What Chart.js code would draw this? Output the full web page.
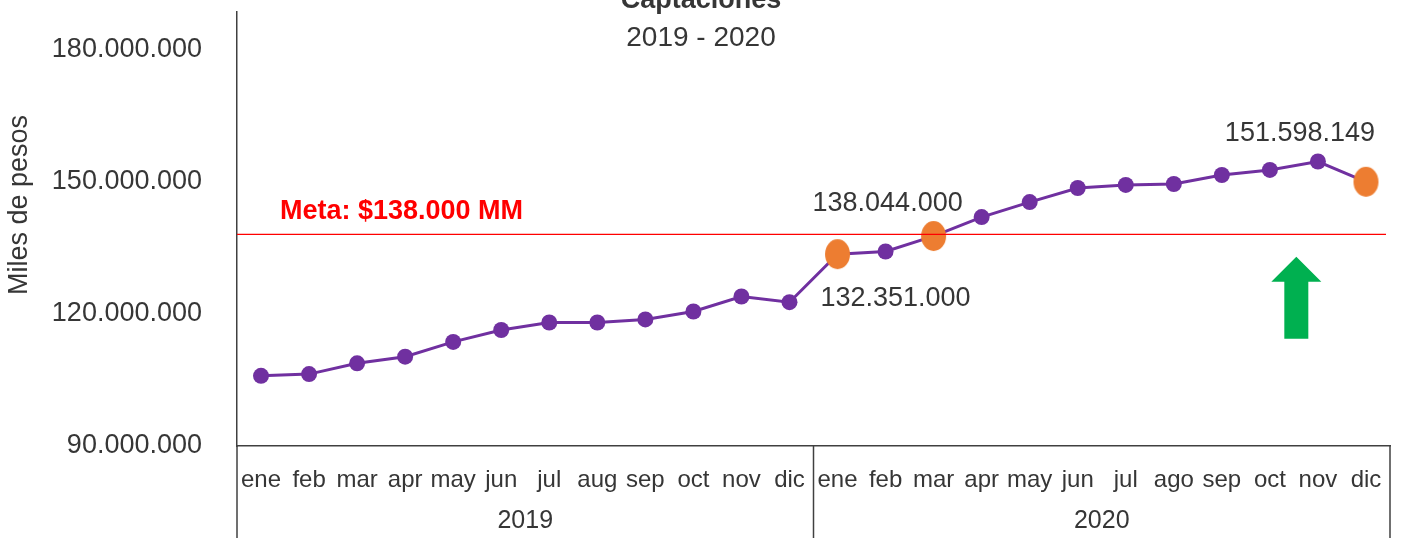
<!DOCTYPE html>
<html>
<head>
<meta charset="utf-8">
<script src="https://cdn.jsdelivr.net/npm/chart.js@4/dist/chart.umd.min.js"></script>
<style>
  html, body { margin: 0; padding: 0; background: #fff; }
  #wrap { width: 1408px; height: 538px; }
</style>
</head>
<body>
<div id="wrap"><canvas id="chart" width="1408" height="538"></canvas></div>
<script>
// Captaciones 2019 - 2020 (miles de pesos)

// ── Data ──────────────────────────────────────────────────────────────────────

const MONTHS_2019 = ['ene', 'feb', 'mar', 'apr', 'may', 'jun', 'jul', 'aug', 'sep', 'oct', 'nov', 'dic'];
const MONTHS_2020 = ['ene', 'feb', 'mar', 'apr', 'may', 'jun', 'jul', 'ago', 'sep', 'oct', 'nov', 'dic'];
const YEARS = ['2019', '2020'];

const CAPTACIONES = [
  105900000, 106300000, 108750000, 110250000, 113600000, 116300000,
  118000000, 118000000, 118700000, 120500000, 123900000, 122600000,
  133500000, 134100000, 137600000, 141900000, 145300000, 148500000,
  149200000, 149400000, 151450000, 152600000, 154500000, 149900000,
];
const HIGHLIGHT = [12, 14, 23];          // puntos naranjas
const META = 138000000;
const META_LABEL = 'Meta: $138.000 MM';

// callouts: text + index of the point it belongs to
const CALLOUT_TEXT  = ['138.044.000', '132.351.000', '151.598.149'];
const CALLOUT_INDEX = [14, 12, 22];

const Y_TICKS = [90000000, 120000000, 150000000, 180000000];
const Y_MIN = 90000000;
const Y_MAX = 188400000;

// flecha verde (entre oct y nov 2020)
const ARROW_INDEX = 21.55;
const ARROW_FROM = 114300000;
const ARROW_TO = 132900000;

const TITLE = 'Captaciones';
const SUBTITLE = '2019 - 2020';
const Y_TITLE = 'Miles de pesos';

// ── Styles ────────────────────────────────────────────────────────────────────

const FONT = '"Liberation Sans", Arial, Helvetica, sans-serif';
const TEXT = '#363636';
const AXIS = '#404040';
const PURPLE = '#7030a0';
const ORANGE = '#ed7d31';
const GREEN = '#00b050';
const RED = '#ff0000';

const fmt = (v) => String(Math.round(v)).replace(/\B(?=(\d{3})+(?!\d))/g, '.');

function ellipse(rx, ry, color) {
  const c = document.createElement('canvas');
  c.width = rx * 2 + 2;
  c.height = ry * 2 + 2;
  const g = c.getContext('2d');
  g.fillStyle = color;
  g.beginPath();
  g.ellipse(rx + 1, ry + 1, rx, ry, 0, 0, Math.PI * 2);
  g.fill();
  return c;
}
const ORANGE_DOT = ellipse(12.5, 15, ORANGE);

// ── Extras plugin: titles, meta line, callouts, arrow, year groups ───────────

const extras = {
  id: 'extras',
  afterDraw(chart) {
    const { ctx, chartArea: a, scales: { x, y } } = chart;
    const H = chart.height;
    ctx.save();

    // title
    ctx.fillStyle = TEXT;
    ctx.textAlign = 'center';
    ctx.textBaseline = 'alphabetic';
    ctx.font = `bold 27px ${FONT}`;
    ctx.fillText(TITLE, 701, 8);
    ctx.textBaseline = 'middle';
    ctx.font = `28px ${FONT}`;
    ctx.fillText(SUBTITLE, 701, 38);

    // y axis title
    ctx.save();
    ctx.translate(20, 205);
    ctx.rotate(-Math.PI / 2);
    ctx.font = `27px ${FONT}`;
    ctx.fillText(Y_TITLE, 0, 0);
    ctx.restore();

    // meta line
    const my = y.getPixelForValue(META);
    ctx.strokeStyle = RED;
    ctx.lineWidth = 1.2;
    ctx.beginPath();
    ctx.moveTo(a.left, my);
    ctx.lineTo(a.right - 4, my);
    ctx.stroke();
    ctx.fillStyle = RED;
    ctx.font = `bold 27px ${FONT}`;
    ctx.textAlign = 'left';
    ctx.fillText(META_LABEL, 280, my - 23);

    // callouts
    const offs = [[-46, -33], [58, 44], [-18, -28]];
    ctx.fillStyle = TEXT;
    ctx.font = `27px ${FONT}`;
    ctx.textAlign = 'center';
    CALLOUT_TEXT.forEach((t, i) => {
      const idx = CALLOUT_INDEX[i];
      const px = x.getPixelForValue(idx);
      const py = y.getPixelForValue(CAPTACIONES[idx]);
      ctx.fillText(t, px + offs[i][0], py + offs[i][1]);
    });

    // green arrow
    const ax = x.getPixelForValue(ARROW_INDEX);
    const yTop = y.getPixelForValue(ARROW_TO);
    const yBot = y.getPixelForValue(ARROW_FROM);
    const headH = 25, headW = 25, shaftW = 12;
    ctx.fillStyle = GREEN;
    ctx.beginPath();
    ctx.moveTo(ax, yTop);
    ctx.lineTo(ax + headW, yTop + headH);
    ctx.lineTo(ax + shaftW, yTop + headH);
    ctx.lineTo(ax + shaftW, yBot);
    ctx.lineTo(ax - shaftW, yBot);
    ctx.lineTo(ax - shaftW, yTop + headH);
    ctx.lineTo(ax - headW, yTop + headH);
    ctx.closePath();
    ctx.fill();

    // year groups under the month labels
    const n = MONTHS_2019.length;
    const step = x.getPixelForValue(1) - x.getPixelForValue(0);
    const edges = [a.left, x.getPixelForValue(n - 1) + step / 2, a.right];
    ctx.strokeStyle = AXIS;
    ctx.lineWidth = 1.5;
    edges.forEach((ex) => {
      ctx.beginPath();
      ctx.moveTo(ex, a.bottom);
      ctx.lineTo(ex, H);
      ctx.stroke();
    });
    ctx.fillStyle = TEXT;
    ctx.font = `25px ${FONT}`;
    YEARS.forEach((yr, i) => {
      ctx.fillText(yr, (edges[i] + edges[i + 1]) / 2, 521);
    });

    ctx.restore();
  },
};

// ── Chart ─────────────────────────────────────────────────────────────────────

const labels = [...MONTHS_2019, ...MONTHS_2020];

new Chart(document.getElementById('chart'), {
  type: 'line',
  data: {
    labels,
    datasets: [{
      data: CAPTACIONES,
      borderColor: PURPLE,
      borderWidth: 3,
      backgroundColor: PURPLE,
      pointBackgroundColor: PURPLE,
      pointBorderWidth: 0,
      pointRadius: 8,
      pointStyle: (c) => (HIGHLIGHT.includes(c.dataIndex) ? ORANGE_DOT : 'circle'),
      tension: 0,
      clip: false,
    }],
  },
  options: {
    responsive: false,
    animation: false,
    layout: { padding: { top: 12, right: 18, left: 0, bottom: 0 } },
    plugins: {
      legend: { display: false },
      tooltip: { enabled: false },
    },
    scales: {
      x: {
        offset: true,
        grid: { display: false, drawTicks: false, offset: true },
        border: { display: true, color: AXIS, width: 1.5 },
        ticks: {
          autoSkip: false,
          maxRotation: 0,
          padding: 20,
          color: TEXT,
          font: { family: FONT, size: 24 },
        },
        afterFit: (s) => {
          s.height = 92;
          s.paddingLeft = 0;
          s.paddingRight = 0;
        },
      },
      y: {
        min: Y_MIN,
        max: Y_MAX,
        grid: { display: false, drawTicks: false },
        border: { display: true, color: AXIS, width: 1.5 },
        ticks: {
          padding: 35,
          color: TEXT,
          font: { family: FONT, size: 27 },
          callback: (v) => fmt(v),
        },
        afterBuildTicks: (s) => { s.ticks = Y_TICKS.map((v) => ({ value: v })); },
        afterFit: (s) => {
          s.width = 237;
          s.paddingTop = 0;
          s.paddingBottom = 0;
        },
      },
    },
  },
  plugins: [extras],
});
</script>
</body>
</html>
